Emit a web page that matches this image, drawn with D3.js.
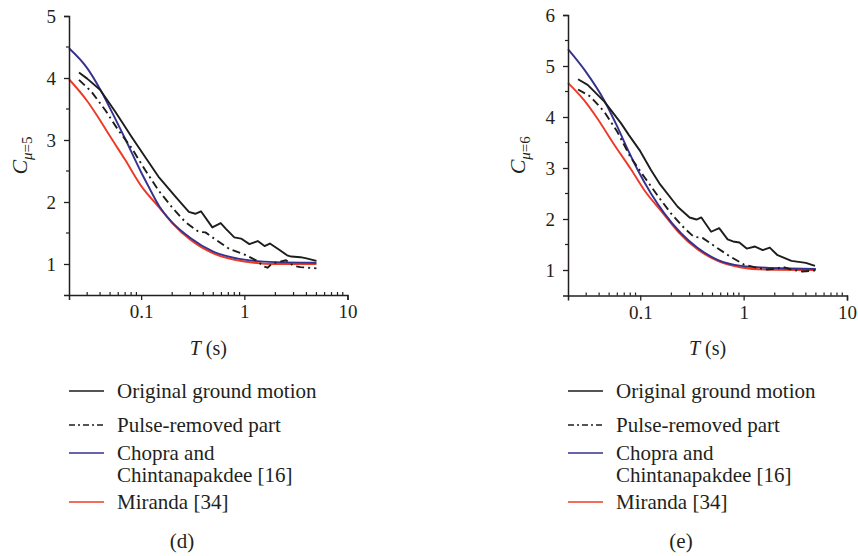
<!DOCTYPE html>
<html>
<head>
<meta charset="utf-8">
<script src="https://cdn.jsdelivr.net/npm/d3@7"></script>
<style>
  html, body { margin: 0; padding: 0; background: #ffffff; }
  svg { display: block; }
  text { font-family: "Liberation Serif", "Times New Roman", serif; fill: #231f20; }
</style>
</head>
<body>
<svg id="chart" width="858" height="556"></svg>
<script>
// ---------------- DATA ----------------
// Panel (d): mu = 5
const periodsOriginalD = [0.025, 0.03, 0.04, 0.056, 0.081, 0.109, 0.147, 0.214, 0.29, 0.335, 0.38, 0.49, 0.59, 0.66, 0.80, 0.93, 1.12, 1.35, 1.57, 1.77, 2.18, 2.6, 2.85, 3.5, 4.0, 5.0];
const originalD        = [4.09, 3.99, 3.81, 3.46, 3.05, 2.73, 2.41, 2.09, 1.84, 1.81, 1.85, 1.59, 1.66, 1.57, 1.43, 1.41, 1.32, 1.37, 1.29, 1.33, 1.23, 1.14, 1.12, 1.11, 1.09, 1.05];

const periodsPulseD = [0.025, 0.033, 0.045, 0.06, 0.081, 0.109, 0.147, 0.198, 0.267, 0.36, 0.42, 0.53, 0.72, 1.03, 1.3, 1.55, 1.68, 1.87, 2.54, 3.0, 3.5, 5.0];
const pulseD        = [3.97, 3.78, 3.48, 3.16, 2.87, 2.52, 2.19, 1.92, 1.68, 1.52, 1.51, 1.39, 1.24, 1.145, 1.06, 0.96, 0.94, 1.01, 1.06, 0.97, 0.95, 0.93];

const periodsChopraD = [0.02, 0.03, 0.04, 0.05, 0.07, 0.1, 0.118, 0.15, 0.2, 0.3, 0.5, 1.0, 2.0, 5.0];
const chopraD        = [4.48, 4.16, 3.82, 3.51, 3.02, 2.48, 2.25, 1.93, 1.67, 1.42, 1.20, 1.07, 1.03, 1.02];

const periodsMirandaD = [0.02, 0.03, 0.04, 0.05, 0.07, 0.1, 0.15, 0.2, 0.3, 0.5, 1.0, 2.0, 5.0];
const mirandaD        = [3.98, 3.63, 3.32, 3.06, 2.68, 2.26, 1.91, 1.66, 1.39, 1.17, 1.04, 1.00, 1.00];

// Panel (e): mu = 6
const periodsOriginalE = [0.025, 0.031, 0.045, 0.065, 0.078, 0.1, 0.127, 0.153, 0.23, 0.30, 0.35, 0.39, 0.485, 0.58, 0.70, 0.79, 0.91, 1.07, 1.29, 1.53, 1.79, 2.13, 2.9, 4.0, 4.9];
const originalE        = [4.74, 4.63, 4.30, 3.88, 3.64, 3.33, 2.96, 2.70, 2.24, 2.03, 1.99, 2.03, 1.75, 1.82, 1.60, 1.56, 1.54, 1.42, 1.46, 1.39, 1.44, 1.29, 1.18, 1.14, 1.08];

const periodsPulseE = [0.025, 0.033, 0.045, 0.06, 0.08, 0.109, 0.147, 0.198, 0.267, 0.33, 0.40, 0.53, 0.72, 1.0, 1.3, 1.66, 2.0, 2.4, 3.0, 3.7, 4.9];
const pulseE        = [4.54, 4.40, 4.10, 3.71, 3.22, 2.83, 2.46, 2.11, 1.82, 1.65, 1.63, 1.46, 1.28, 1.11, 1.05, 1.01, 1.02, 1.06, 1.00, 0.97, 0.99];

const periodsChopraE = [0.02, 0.0297, 0.0447, 0.06, 0.075, 0.094, 0.127, 0.171, 0.248, 0.36, 0.56, 0.95, 1.86, 5.0];
const chopraE        = [5.33, 4.89, 4.33, 3.81, 3.38, 2.97, 2.50, 2.11, 1.72, 1.43, 1.20, 1.08, 1.04, 1.02];

const periodsMirandaE = [0.02, 0.0286, 0.0385, 0.055, 0.081, 0.11, 0.159, 0.23, 0.36, 0.56, 0.95, 1.6, 5.0];
const mirandaE        = [4.67, 4.33, 3.97, 3.48, 2.98, 2.56, 2.16, 1.76, 1.40, 1.18, 1.05, 1.01, 1.00];

// Axis ticks and labels
const xMajorTicks = [0.1, 1, 10];
const xTickLabels = ["0.1", "1", "10"];
const xMinorTicks = [0.03, 0.04, 0.05, 0.06, 0.07, 0.08, 0.09, 0.2, 0.3, 0.4, 0.5, 0.6, 0.7, 0.8, 0.9, 2, 3, 4, 5, 6, 7, 8, 9];
const yMajorTicksD = [1, 2, 3, 4, 5];
const yMinorTicksD = [1.5, 2.5, 3.5, 4.5];
const yMajorTicksE = [1, 2, 3, 4, 5, 6];
const yMinorTicksE = [1.5, 2.5, 3.5, 4.5, 5.5];

const legendLabels = ["Original ground motion", "Pulse-removed part", "Chopra and\nChintanapakdee [16]", "Miranda [34]"];
const panelLetters = ["(d)", "(e)"];
const muValues = ["5", "6"];

// ---------------- DRAWING ----------------
const svg = d3.select("#chart");
const colors = { original: "#1d1d1b", pulse: "#1d1d1b", chopra: "#35318f", miranda: "#ee3a25" };

function zip(ts, vs) { return ts.map((t, i) => [t, vs[i]]); }

const panels = [
  {
    left: 69, right: 347.5, top: 16, bottom: 295, yDomain: [0.5, 5],
    yMajor: yMajorTicksD, yMinor: yMinorTicksD, titleX: 27, letterX: 182,
    series: [
      { key: "original", data: zip(periodsOriginalD, originalD) },
      { key: "pulse", data: zip(periodsPulseD, pulseD) },
      { key: "chopra", data: zip(periodsChopraD, chopraD) },
      { key: "miranda", data: zip(periodsMirandaD, mirandaD) }
    ]
  },
  {
    left: 568, right: 847, top: 15, bottom: 295.5, yDomain: [0.5, 6],
    yMajor: yMajorTicksE, yMinor: yMinorTicksE, titleX: 525, letterX: 681,
    series: [
      { key: "original", data: zip(periodsOriginalE, originalE) },
      { key: "pulse", data: zip(periodsPulseE, pulseE) },
      { key: "chopra", data: zip(periodsChopraE, chopraE) },
      { key: "miranda", data: zip(periodsMirandaE, mirandaE) }
    ]
  }
];

const drawOrder = ["miranda", "chopra", "pulse", "original"];

panels.forEach((p, pi) => {
  const g = svg.append("g");
  const x = d3.scaleLog().domain([0.02, 10]).range([p.left, p.right]);
  const y = d3.scaleLinear().domain(p.yDomain).range([p.bottom, p.top]);

  // Curves
  const line = d3.line().x(d => x(d[0])).y(d => y(d[1]));
  drawOrder.forEach(k => {
    const s = p.series.find(s => s.key === k);
    const smooth = (k === "chopra" || k === "miranda");
    g.append("path")
      .datum(s.data)
      .attr("fill", "none")
      .attr("stroke", colors[k])
      .attr("stroke-width", 1.9)
      .attr("stroke-linejoin", "round")
      .attr("stroke-dasharray", k === "pulse" ? "8,4,2,4" : null)
      .attr("d", line.curve(smooth ? d3.curveMonotoneX : d3.curveLinear));
  });

  // X axis
  const xAxis = d3.axisBottom(x)
    .tickValues(xMajorTicks)
    .tickFormat((d, i) => xTickLabels[i])
    .tickSize(5).tickPadding(5);
  const xg = g.append("g").attr("transform", `translate(0,${p.bottom})`).call(xAxis);
  xg.select(".domain").attr("stroke", "#231f20").attr("stroke-width", 1.5);
  xg.selectAll(".tick line").attr("stroke", "#231f20").attr("stroke-width", 1.3);
  xg.selectAll(".tick text").attr("font-size", 19).attr("font-family", "Liberation Serif").attr("fill", "#231f20");
  xg.selectAll(".minor").data(xMinorTicks).enter().append("line")
    .attr("x1", d => x(d)).attr("x2", d => x(d))
    .attr("y1", 0).attr("y2", -3)
    .attr("stroke", "#231f20").attr("stroke-width", 1.2);

  // Y axis
  const yAxis = d3.axisLeft(y)
    .tickValues(p.yMajor)
    .tickFormat(d3.format("d"))
    .tickSize(5).tickPadding(8);
  const yg = g.append("g").attr("transform", `translate(${p.left},0)`).call(yAxis);
  yg.select(".domain").attr("stroke", "#231f20").attr("stroke-width", 1.5);
  yg.selectAll(".tick line").attr("stroke", "#231f20").attr("stroke-width", 1.3);
  yg.selectAll(".tick text").attr("font-size", 19).attr("font-family", "Liberation Serif").attr("fill", "#231f20");
  yg.selectAll(".minor").data(p.yMinor).enter().append("line")
    .attr("x1", 0).attr("x2", -3)
    .attr("y1", d => y(d)).attr("y2", d => y(d))
    .attr("stroke", "#231f20").attr("stroke-width", 1.2);

  // Y title
  const yt = g.append("text")
    .attr("transform", `translate(${p.titleX},${(p.top + p.bottom) / 2}) rotate(-90)`)
    .attr("text-anchor", "middle")
    .attr("font-size", 22);
  yt.append("tspan").attr("font-style", "italic").text("C");
  yt.append("tspan").attr("font-size", 15).attr("font-style", "italic").attr("dy", 5).text("μ");
  yt.append("tspan").attr("font-size", 15).text("=" + muValues[pi]);

  // X title
  const xt = g.append("text")
    .attr("x", (p.left + p.right) / 2).attr("y", 355)
    .attr("text-anchor", "middle").attr("font-size", 20);
  xt.append("tspan").attr("font-style", "italic").text("T");
  xt.append("tspan").text(" (s)");

  // Legend
  const lineY = [391, 425, 453, 502];
  const textY = [397.5, 431.5, 459.5, 508.5];
  const legendKeys = ["original", "pulse", "chopra", "miranda"];
  legendKeys.forEach((k, i) => {
    g.append("line")
      .attr("x1", p.left).attr("x2", p.left + 35)
      .attr("y1", lineY[i]).attr("y2", lineY[i])
      .attr("stroke", colors[k]).attr("stroke-width", 1.6)
      .attr("stroke-dasharray", k === "pulse" ? "6,3,2,3" : null);
    const parts = legendLabels[i].split("\n");
    const t = g.append("text").attr("x", p.left + 48).attr("y", textY[i]).attr("font-size", 21);
    parts.forEach((s, j) => {
      t.append("tspan").attr("x", p.left + 48).attr("dy", j === 0 ? 0 : 22).text(s);
    });
  });

  // Panel letter
  g.append("text").attr("x", p.letterX).attr("y", 548)
    .attr("text-anchor", "middle").attr("font-size", 21).text(panelLetters[pi]);
});
</script>
</body>
</html>
